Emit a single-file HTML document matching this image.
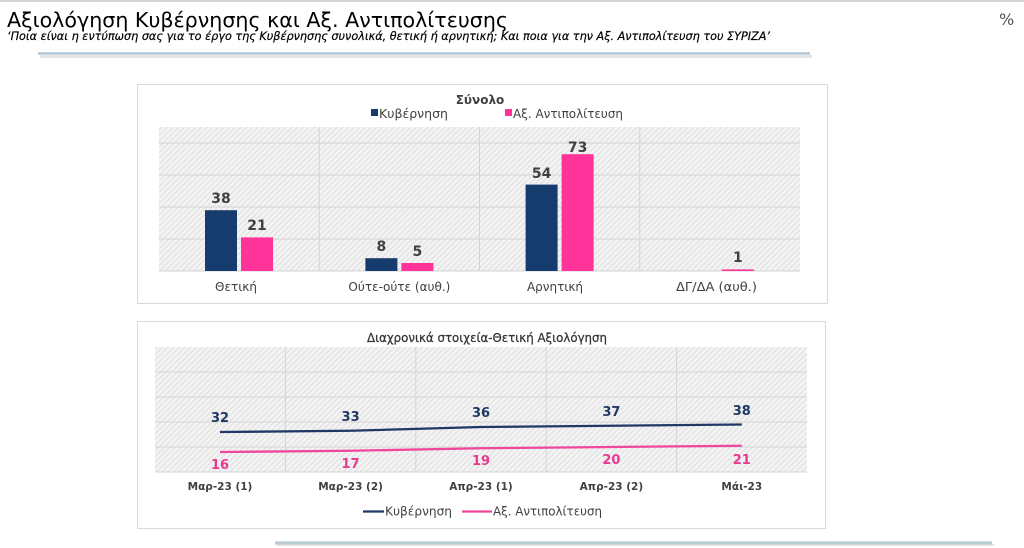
<!DOCTYPE html>
<html>
<head>
<meta charset="utf-8">
<style>
html,body{margin:0;padding:0;background:#fff;}
svg{display:block;}
text{font-family:"DejaVu Sans","Liberation Sans",sans-serif;}
.num{font-family:"Liberation Sans","DejaVu Sans",sans-serif;font-weight:bold;}
</style>
</head>
<body>
<svg width="1024" height="548" viewBox="0 0 1024 548" xmlns="http://www.w3.org/2000/svg">
<defs>
  <pattern id="hatch" width="4" height="4" patternUnits="userSpaceOnUse" patternTransform="rotate(45)">
    <rect width="4" height="4" fill="#f3f3f3"/>
    <line x1="0" y1="0" x2="0" y2="4" stroke="#d6d6d6" stroke-width="1.4"/>
  </pattern>
  <linearGradient id="bar1" x1="0" y1="0" x2="0" y2="1">
    <stop offset="0" stop-color="#c8dae4"/>
    <stop offset="0.5" stop-color="#a7c1d1"/>
    <stop offset="1" stop-color="#dfe6ea"/>
  </linearGradient>
  <linearGradient id="bar2" x1="0" y1="0" x2="0" y2="1">
    <stop offset="0" stop-color="#d4e2e4"/>
    <stop offset="0.5" stop-color="#b3c8cb"/>
    <stop offset="1" stop-color="#d8dcdd"/>
  </linearGradient>
</defs>

<!-- top strip -->
<rect x="0" y="0" width="1024" height="2" fill="#d6d6d6"/>

<!-- Title -->
<text x="7" y="27" font-size="20" fill="#000" textLength="501" lengthAdjust="spacingAndGlyphs">Αξιολόγηση Κυβέρνησης και Αξ. Αντιπολίτευσης</text>
<text x="7" y="40" font-size="11.5" font-style="italic" fill="#000" stroke="#000" stroke-width="0.2" textLength="763" lengthAdjust="spacingAndGlyphs">‘Ποια είναι η εντύπωση σας για το έργο της Κυβέρνησης συνολικά, θετική ή αρνητική; Και ποια για την Αξ. Αντιπολίτευση του ΣΥΡΙΖΑ’</text>
<text x="999" y="25" font-size="16" fill="#555">%</text>

<!-- header underline bar -->
<rect x="40" y="55" width="772" height="3" fill="#e6e6e6"/>
<rect x="38" y="52" width="772" height="3" fill="url(#bar1)"/>

<!-- ============ BAR CHART ============ -->
<rect x="137.5" y="84.5" width="690" height="219" fill="#fff" stroke="#d9d9d9"/>
<text x="480" y="104" font-size="12" font-weight="bold" fill="#404040" text-anchor="middle">Σύνολο</text>
<rect x="371" y="109" width="7" height="7" fill="#163c6e"/>
<text x="379" y="118" font-size="12" fill="#404040" textLength="69" lengthAdjust="spacingAndGlyphs">Κυβέρνηση</text>
<rect x="505" y="109" width="7" height="7" fill="#ff3399"/>
<text x="513" y="118" font-size="12" fill="#404040" textLength="110" lengthAdjust="spacingAndGlyphs">Αξ. Αντιπολίτευση</text>

<rect x="159" y="127" width="641" height="144" fill="url(#hatch)"/>
<g stroke="#d3d3d3" stroke-width="1">
  <line x1="159" y1="143" x2="800" y2="143"/>
  <line x1="159" y1="175" x2="800" y2="175"/>
  <line x1="159" y1="207" x2="800" y2="207"/>
  <line x1="159" y1="239" x2="800" y2="239"/>
  <line x1="159" y1="271" x2="800" y2="271"/>
  <line x1="319.25" y1="127" x2="319.25" y2="271"/>
  <line x1="479.5" y1="127" x2="479.5" y2="271"/>
  <line x1="639.75" y1="127" x2="639.75" y2="271"/>
</g>

<!-- bars: y(v)=271-1.6v -->
<rect x="205" y="210.2" width="32" height="60.8" fill="#163c6e"/>
<rect x="241" y="237.4" width="32" height="33.6" fill="#ff3399"/>
<rect x="365.4" y="258.2" width="32" height="12.8" fill="#163c6e"/>
<rect x="401.4" y="263" width="32" height="8" fill="#ff3399"/>
<rect x="525.6" y="184.6" width="32" height="86.4" fill="#163c6e"/>
<rect x="561.6" y="154.2" width="32" height="116.8" fill="#ff3399"/>
<rect x="721.9" y="269.4" width="32" height="1.6" fill="#ff3399"/>

<g class="num" font-size="14" fill="#404040" text-anchor="middle">
  <text x="221" y="203">38</text>
  <text x="257" y="230">21</text>
  <text x="381.4" y="251">8</text>
  <text x="417.4" y="256">5</text>
  <text x="541.6" y="178">54</text>
  <text x="577.6" y="152">73</text>
  <text x="737.9" y="262">1</text>
</g>
<g font-size="12" fill="#404040" text-anchor="middle">
  <text x="236" y="291">Θετική</text>
  <text x="399.4" y="291" textLength="102" lengthAdjust="spacingAndGlyphs">Ούτε-ούτε (αυθ.)</text>
  <text x="555" y="291">Αρνητική</text>
  <text x="716.5" y="291" textLength="81" lengthAdjust="spacingAndGlyphs">ΔΓ/ΔΑ (αυθ.)</text>
</g>

<!-- ============ LINE CHART ============ -->
<rect x="137.5" y="321.5" width="688" height="207" fill="#fff" stroke="#d9d9d9"/>
<text x="367" y="342" font-size="12.5" fill="#333" stroke="#333" stroke-width="0.25" textLength="240" lengthAdjust="spacingAndGlyphs">Διαχρονικά στοιχεία-Θετική Αξιολόγηση</text>

<rect x="155" y="347" width="652" height="125" fill="url(#hatch)"/>
<g stroke="#d5d5d5" stroke-width="1">
  <line x1="155" y1="372" x2="807" y2="372"/>
  <line x1="155" y1="397" x2="807" y2="397"/>
  <line x1="155" y1="422" x2="807" y2="422"/>
  <line x1="155" y1="447" x2="807" y2="447"/>
  <line x1="155" y1="472" x2="807" y2="472"/>
  <line x1="285.4" y1="347" x2="285.4" y2="472"/>
  <line x1="415.8" y1="347" x2="415.8" y2="472"/>
  <line x1="546.2" y1="347" x2="546.2" y2="472"/>
  <line x1="676.6" y1="347" x2="676.6" y2="472"/>
</g>

<polyline points="220,432 350.6,430.75 481,427 611.4,425.75 741.8,424.5" fill="none" stroke="#1f3864" stroke-width="2.3"/>
<polyline points="220,452 350.6,450.75 481,448.25 611.4,447 741.8,445.75" fill="none" stroke="#f0469c" stroke-width="2.3"/>

<g class="num" font-size="13" fill="#1f3864" text-anchor="middle">
  <text x="220" y="422">32</text>
  <text x="350.6" y="421">33</text>
  <text x="481" y="417">36</text>
  <text x="611.4" y="416">37</text>
  <text x="741.8" y="415">38</text>
</g>
<g class="num" font-size="13" fill="#e8398f" text-anchor="middle">
  <text x="220" y="469">16</text>
  <text x="350.6" y="468">17</text>
  <text x="481" y="465">19</text>
  <text x="611.4" y="464">20</text>
  <text x="741.8" y="464">21</text>
</g>
<g class="num" font-size="10.5" fill="#404040" text-anchor="middle">
  <text x="220" y="490">Μαρ-23 (1)</text>
  <text x="350.6" y="490">Μαρ-23 (2)</text>
  <text x="481" y="490">Απρ-23 (1)</text>
  <text x="611.4" y="490">Απρ-23 (2)</text>
  <text x="741.8" y="490">Μάι-23</text>
</g>

<!-- legend -->
<line x1="363" y1="511.5" x2="384" y2="511.5" stroke="#1f3864" stroke-width="2.3"/>
<text x="385" y="515.5" font-size="12.5" fill="#404040" textLength="67" lengthAdjust="spacingAndGlyphs">Κυβέρνηση</text>
<line x1="462" y1="511.5" x2="492" y2="511.5" stroke="#f0469c" stroke-width="2.3"/>
<text x="493" y="515.5" font-size="12.5" fill="#404040" textLength="109" lengthAdjust="spacingAndGlyphs">Αξ. Αντιπολίτευση</text>

<!-- bottom bar -->
<rect x="277" y="544" width="717" height="2" fill="#e2e2e2"/>
<rect x="275" y="541" width="717" height="4" fill="url(#bar2)"/>
</svg>
</body>
</html>
